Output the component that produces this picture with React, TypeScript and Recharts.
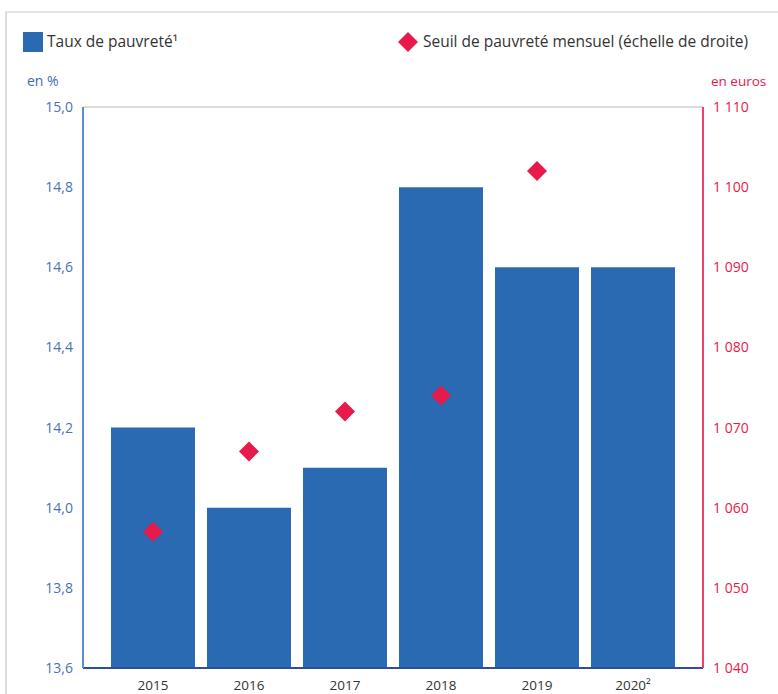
import React from 'react'
import {
  Bar, CartesianGrid, ComposedChart, Scatter, XAxis, YAxis,
} from 'recharts'

const years = ['2015', '2016', '2017', '2018', '2019', '2020²']
const tauxPauvrete = [14.2, 14.0, 14.1, 14.8, 14.6, 14.6]
const seuilMensuel = [1057, 1067, 1072, 1074, 1102, null]
const leftTicks = [13.6, 13.8, 14.0, 14.2, 14.4, 14.6, 14.8, 15.0]
const rightTicks = [1040, 1050, 1060, 1070, 1080, 1090, 1100, 1110]

const BLUE = '#2a6ab3'
const RED = '#e8194b'
const FONT = '"Open Sans", sans-serif'

const data = years.map((year, i) => ({
  year,
  taux: tauxPauvrete[i],
  seuil: seuilMensuel[i],
}))

const fmtPct = (v: number) => v.toFixed(1).replace('.', ',')
const fmtEur = (v: number) => String(v).replace(/\B(?=(\d{3})+(?!\d))/g, ' ')

const Diamond = (props: any) => {
  const { cx, cy } = props
  if (cx == null || cy == null || props.payload?.seuil == null) return null
  const r = 10
  return (
    <polygon
      points={`${cx},${cy - r} ${cx + r},${cy} ${cx},${cy + r} ${cx - r},${cy}`}
      fill={RED}
    />
  )
}

export default function App() {
  return (
    <div style={{ position: 'absolute', left: 0, top: 0, width: 778, height: 694, background: '#fff', overflow: 'hidden' }}>
      <div style={{
        position: 'absolute', left: 5, top: 11, width: 800, height: 720,
        borderLeft: '2px solid #ddd', borderTop: '2px solid #e4e4e4',
      }}
      />
      {/* legend */}
      <div style={{ position: 'absolute', left: 0, top: 31, width: 778, height: 24, fontFamily: FONT, fontSize: 15.5, color: '#333' }}>
        <div style={{ position: 'absolute', left: 23, top: 1, width: 20, height: 20, background: BLUE }} />
        <span style={{ position: 'absolute', left: 47, top: -1 }}>Taux de pauvreté¹</span>
        <svg style={{ position: 'absolute', left: 397, top: 0 }} width={22} height={22}>
          <polygon points='11,1 21,11 11,21 1,11' fill={RED} />
        </svg>
        <span style={{ position: 'absolute', left: 423, top: -1 }}>Seuil de pauvreté mensuel (échelle de droite)</span>
      </div>
      <div style={{ position: 'absolute', left: 27, top: 71, fontFamily: FONT, fontSize: 14, color: '#3f6bb5' }}>en %</div>
      <div style={{ position: 'absolute', left: 711, top: 72, fontFamily: FONT, fontSize: 13.5, color: RED }}>en euros</div>
      <div style={{ position: 'absolute', left: 0, top: 0 }}>
        <ComposedChart
          width={778}
          height={694}
          data={data}
          margin={{ top: 107, right: 0, left: 0, bottom: 0 }}
        >
          <CartesianGrid vertical={false} stroke='#d0d0d0' strokeWidth={1.5} />
          <XAxis
            dataKey='year'
            tickLine={false}
            axisLine={{ stroke: '#2d4e9e', strokeWidth: 2 }}
            tick={{ fill: '#333', fontSize: 13.5, fontFamily: FONT }}
            tickMargin={6}
            height={26}
            padding={{ left: 22, right: 22 }}
          />
          <YAxis
            yAxisId='left'
            domain={[13.6, 15.0]}
            ticks={leftTicks}
            tickFormatter={fmtPct}
            tickLine={false}
            axisLine={{ stroke: '#5b8fd0', strokeWidth: 2 }}
            tick={{ fill: '#4a70b8', fontSize: 14, fontFamily: FONT }}
            tickMargin={4}
            width={83}
            interval={0}
          />
          <YAxis
            yAxisId='right'
            orientation='right'
            domain={[1040, 1110]}
            ticks={rightTicks}
            tickFormatter={fmtEur}
            tickLine={false}
            axisLine={{ stroke: '#f0406a', strokeWidth: 2 }}
            tick={{ fill: RED, fontSize: 14, fontFamily: FONT }}
            tickMargin={4}
            width={75}
            interval={0}
          />
          <Bar
            yAxisId='left'
            dataKey='taux'
            fill={BLUE}
            barSize={84}
            isAnimationActive={false}
          />
          <Scatter
            yAxisId='right'
            dataKey='seuil'
            shape={Diamond}
            isAnimationActive={false}
          />
        </ComposedChart>
      </div>
    </div>
  )
}
